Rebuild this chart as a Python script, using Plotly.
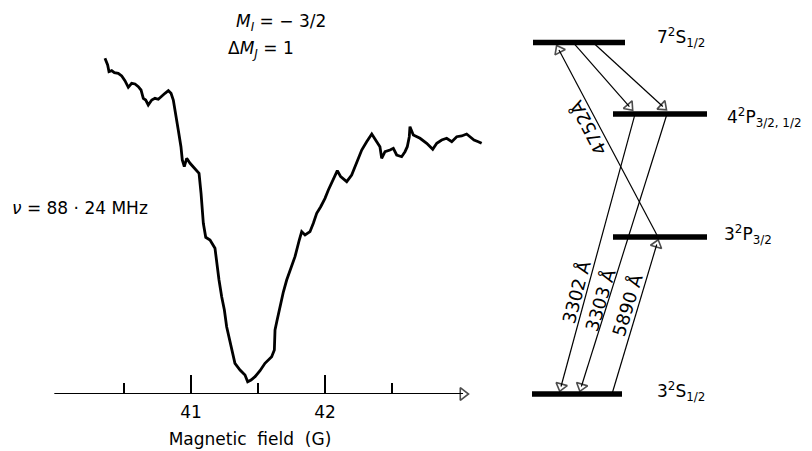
import plotly.graph_objects as go

# ---------------- data: resonance curve ----------------
FIELD_G = [40.358, 40.378, 40.388, 40.408, 40.428, 40.457, 40.483, 40.507, 40.532, 40.557,
           40.582, 40.607, 40.627, 40.644, 40.662, 40.681, 40.707, 40.731, 40.756, 40.781,
           40.806, 40.831, 40.851, 40.868, 40.886, 40.905, 40.925, 40.935, 40.950, 40.968,
           40.993, 41.030, 41.060, 41.075, 41.092, 41.110, 41.142, 41.179, 41.192, 41.209,
           41.229, 41.249, 41.266, 41.284, 41.304, 41.328, 41.366, 41.403, 41.423, 41.448,
           41.478, 41.515, 41.552, 41.602, 41.622, 41.627, 41.640, 41.664, 41.689, 41.714,
           41.751, 41.776, 41.808, 41.826, 41.851, 41.888, 41.913, 41.938, 41.968, 42.000,
           42.025, 42.050, 42.075, 42.092, 42.117, 42.162, 42.199, 42.224, 42.249, 42.274,
           42.311, 42.349, 42.386, 42.410, 42.423, 42.448, 42.485, 42.510, 42.535, 42.572,
           42.597, 42.614, 42.629, 42.634, 42.659, 42.709, 42.759, 42.804, 42.834, 42.871,
           42.908, 42.946, 42.983, 43.020, 43.057, 43.082, 43.112, 43.144, 43.169]
SIGNAL = [33.57, 32.90, 32.23, 32.33, 32.13, 32.07, 31.80, 31.33, 30.67, 31.07,
          31.00, 30.73, 30.40, 29.57, 29.40, 28.90, 29.40, 29.57, 29.47, 29.80,
          30.07, 30.33, 30.07, 29.40, 28.07, 26.40, 24.73, 23.40, 22.73, 23.57,
          23.07, 22.57, 22.07, 20.07, 17.07, 15.67, 15.40, 14.57, 13.07, 11.40,
          9.73, 8.40, 6.73, 5.57, 4.40, 3.07, 2.40, 1.90, 1.23, 1.40,
          1.73, 2.33, 3.07, 3.73, 4.40, 6.40, 7.23, 8.73, 10.20, 11.40,
          12.73, 13.73, 15.40, 16.23, 15.90, 16.23, 17.07, 18.07, 18.73, 19.57,
          20.40, 21.07, 21.73, 22.33, 21.73, 21.23, 21.90, 22.73, 23.73, 24.40,
          25.23, 26.00, 25.23, 24.73, 23.57, 24.23, 24.40, 24.57, 23.90, 23.73,
          24.23, 24.73, 25.73, 26.73, 25.90, 25.57, 25.07, 24.47, 25.07, 25.40,
          25.57, 25.23, 25.73, 25.80, 26.00, 25.73, 25.40, 25.23, 25.07]

MAJOR_TICKS = [41, 42]
MINOR_TICKS = [40.5, 41.5, 42.5]
AXIS_START, AXIS_END = 39.98, 43.03

# ---------------- data: sodium energy levels (cm^-1) ----------------
LEVEL_LABELS = ["3<sup>2</sup>S<sub>1/2</sub>", "3<sup>2</sup>P<sub>3/2</sub>",
                "4<sup>2</sup>P<sub>3/2, 1/2</sub>", "7<sup>2</sup>S<sub>1/2</sub>"]
LEVEL_ENERGY = [0, 16973, 30270, 38012]
LEVEL_X0 = [32, 113, 113, 33]
LEVEL_X1 = [122, 207, 207, 125]
LEVEL_LABEL_X = [155, 222, 225, 155]
LEVEL_LABEL_SHIFT = [3, 3, -3, 5]

# transitions: (from level, x at from, to level, x at to)
TR_FROM = [1, 3, 3, 2, 2, 0]
TR_X_FROM = [158, 73, 93, 135, 167, 112]
TR_TO = [3, 2, 2, 0, 0, 1]
TR_X_TO = [55, 136, 171, 59, 79, 159]
TR_LABELS = ["4752Å", "3302 Å", "3303 Å", "5890 Å"]
TR_LABEL_X = [88, 76, 100, 127]
TR_LABEL_E = [28750, 11030, 10160, 9620]
TR_LABEL_ANGLE = [-117.5, -75, -73, -73]

FONT = "DejaVu Sans"
W, H = 812, 451
SPLIT = 500 / W
Y2_RANGE = [-6160, 42600]
EPP = (Y2_RANGE[1] - Y2_RANGE[0]) / H  # energy units per pixel
HEAD_GAP_PX = 7.5

fig = go.Figure()

# curve
fig.add_trace(go.Scatter(x=FIELD_G, y=SIGNAL, mode="lines",
                         line=dict(color="black", width=2.8), xaxis="x", yaxis="y",
                         showlegend=False, hoverinfo="skip"))
# field axis with open arrow head
fig.add_trace(go.Scatter(x=[AXIS_START, AXIS_END], y=[0, 0], mode="lines+markers",
                         line=dict(color="black", width=2),
                         marker=dict(symbol="triangle-up-open", size=[0, 11], angleref="previous",
                                     color="black", line=dict(width=1.6, color="black")),
                         xaxis="x", yaxis="y", showlegend=False, hoverinfo="skip", cliponaxis=False))

# energy levels
lx, ly = [], []
for e, a, b in zip(LEVEL_ENERGY, LEVEL_X0, LEVEL_X1):
    lx += [a, b, None]
    ly += [e, e, None]
fig.add_trace(go.Scatter(x=lx, y=ly, mode="lines", line=dict(color="black", width=5.5),
                         xaxis="x2", yaxis="y2", showlegend=False, hoverinfo="skip"))

# transitions (arrows with open heads)
for fi, xf, ti, xt in zip(TR_FROM, TR_X_FROM, TR_TO, TR_X_TO):
    ef, et = LEVEL_ENERGY[fi], LEVEL_ENERGY[ti]
    dy_px = (et - ef) / EPP
    frac = 1 - HEAD_GAP_PX / abs(dy_px)
    xe = xf + (xt - xf) * frac
    ee = ef + (et - ef) * frac
    fig.add_trace(go.Scatter(x=[xf, xe], y=[ef, ee], mode="lines+markers",
                             line=dict(color="black", width=1.2),
                             marker=dict(symbol="triangle-up-open", size=[0, 10], angleref="previous",
                                         color="black", line=dict(width=1.6, color="black")),
                             xaxis="x2", yaxis="y2", showlegend=False, hoverinfo="skip",
                             cliponaxis=False))

annotations = []
for lab, e, x, s in zip(LEVEL_LABELS, LEVEL_ENERGY, LEVEL_LABEL_X, LEVEL_LABEL_SHIFT):
    annotations.append(dict(x=x, y=e, xref="x2", yref="y2", text=lab, showarrow=False,
                            xanchor="left", yanchor="middle", yshift=s,
                            font=dict(family=FONT, size=17, color="black")))
for lab, x, e, ang in zip(TR_LABELS, TR_LABEL_X, TR_LABEL_E, TR_LABEL_ANGLE):
    annotations.append(dict(x=x, y=e, xref="x2", yref="y2", text=lab, showarrow=False,
                            textangle=ang, xanchor="center", yanchor="middle",
                            font=dict(family=FONT, size=18, color="black")))

annotations += [
    dict(x=281 / W, y=1 - 22 / H, xref="paper", yref="paper", showarrow=False,
         text="<i>M</i><sub><i>I</i></sub> = − 3/2", xanchor="center", yanchor="middle",
         font=dict(family=FONT, size=17, color="black")),
    dict(x=261 / W, y=1 - 50 / H, xref="paper", yref="paper", showarrow=False,
         text="Δ<i>M</i><sub><i>J</i></sub> = 1", xanchor="center", yanchor="middle",
         font=dict(family=FONT, size=17, color="black")),
    dict(x=80 / W, y=1 - 208 / H, xref="paper", yref="paper", showarrow=False,
         text="<i>ν</i> = 88 · 24 MHz", xanchor="center", yanchor="middle",
         font=dict(family=FONT, size=17, color="black")),
]

fig.update_layout(
    width=W, height=H, margin=dict(l=0, r=0, t=0, b=0),
    paper_bgcolor="white", plot_bgcolor="white", template="none",
    font=dict(family=FONT, size=17, color="black"),
    annotations=annotations,
    xaxis=dict(domain=[0, SPLIT], range=[39.5746, 41 + 309 / 134], anchor="y",
               tickmode="array", tickvals=MAJOR_TICKS, ticks="inside", ticklen=19,
               tickwidth=1.5, tickcolor="black", showline=False, showgrid=False,
               zeroline=False, automargin=False, ticklabelstandoff=6,
               tickfont=dict(family=FONT, size=17, color="black"),
               minor=dict(tickvals=MINOR_TICKS, ticks="inside", ticklen=11, tickwidth=1.5,
                          tickcolor="black", showgrid=False),
               title=dict(text="Magnetic  field  (G)", standoff=12,
                          font=dict(family=FONT, size=17, color="black"))),
    yaxis=dict(domain=[57 / H, 1], range=[0, 39.4], visible=False, anchor="x"),
    xaxis2=dict(domain=[SPLIT, 1], range=[0, 312], visible=False, anchor="y2"),
    yaxis2=dict(domain=[0, 1], range=Y2_RANGE, visible=False, anchor="x2"),
)

fig.write_html("out.html", config={"displayModeBar": False},
               post_script="document.body.style.margin='0';document.body.style.overflow='hidden';")
